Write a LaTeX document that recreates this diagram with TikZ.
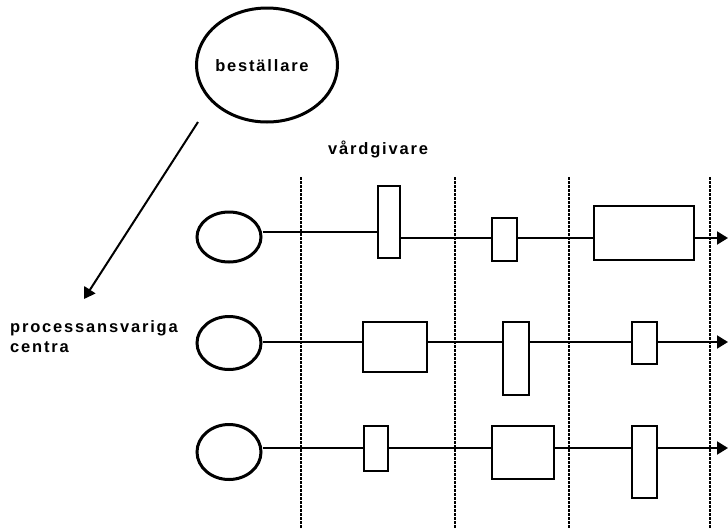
\documentclass[tikz,border=0pt]{standalone}
\usepackage{fontspec}
\newfontfamily\labfont{Liberation Sans Bold}[LetterSpace=11]
\usepackage{tikz}
\usetikzlibrary{shapes.geometric,arrows.meta}

\tikzset{
  lab/.style={font=\labfont\fontsize{16.5}{20}\selectfont, inner sep=0pt},
  actor/.style={draw, ellipse, line width=3pt, inner sep=0pt},
  task/.style={draw, rectangle, line width=2.2pt, inner sep=0pt},
  flow/.style={line width=2pt},
  tip/.style={-{Triangle[length=11pt,width=13pt]}},
  sep/.style={line width=2pt, dash pattern=on 2.5pt off 1.5pt}
}

\begin{document}
\begin{tikzpicture}[x=1pt,y=-1pt]
   \useasboundingbox (0,0) rectangle (728,528);
   % beställare och pilen ner
   \node[actor, minimum width=141pt, minimum height=114pt] (best) at (267,65) {};
   \node[lab] at (262,66) {beställare};
   \coordinate (a0) at (198,122);
   \coordinate (a1) at (84,299);
   \draw[flow,tip] (a0) -- (a1);
   \node[lab, anchor=base west] (vg) at (328,154) {vårdgivare};
   \node[lab, anchor=north west, align=left] (pc) at (10,320) {processansvariga\\centra};
   % skiljelinjer
   \foreach \x in {301,455,569,710}
     \draw[sep] (\x,177) -- (\x,528);
   % rad 1
   \node[actor, minimum width=64pt, minimum height=50pt] (c1) at (229,237) {};
   \node[task, minimum width=22pt, minimum height=72pt] (b11) at (389,222) {};
   \node[task, minimum width=25pt, minimum height=43pt] (b12) at (504.5,239.5) {};
   \node[task, minimum width=100pt, minimum height=54pt] (b13) at (644,233) {};
   \coordinate (e1) at (728,238);
   \draw[flow] ([yshift=5pt]c1.east) -- ([yshift=5pt]c1.east -| b11.west);
   \draw[flow] (b11.east |- e1) -- (b12.west |- e1);
   \draw[flow] (b12.east |- e1) -- (b13.west |- e1);
   \draw[flow,tip] (b13.east |- e1) -- (e1);
   % rad 2
   \node[actor, minimum width=64pt, minimum height=53pt] (c2) at (229,343) {};
   \node[task, minimum width=64pt, minimum height=50pt] (b21) at (395,347) {};
   \node[task, minimum width=26pt, minimum height=73pt] (b22) at (516,358.5) {};
   \node[task, minimum width=25pt, minimum height=42pt] (b23) at (644.5,343) {};
   \coordinate (e2) at (728,342);
   \draw[flow] (c2.east |- e2) -- (b21.west |- e2);
   \draw[flow] (b21.east |- e2) -- (b22.west |- e2);
   \draw[flow] (b22.east |- e2) -- (b23.west |- e2);
   \draw[flow,tip] (b23.east |- e2) -- (e2);
   % rad 3
   \node[actor, minimum width=64pt, minimum height=55pt] (c3) at (229,452) {};
   \node[task, minimum width=24pt, minimum height=45pt] (b31) at (376,448.5) {};
   \node[task, minimum width=62pt, minimum height=53pt] (b32) at (523,452.5) {};
   \node[task, minimum width=25pt, minimum height=72pt] (b33) at (644.5,462) {};
   \coordinate (e3) at (728,448);
   \draw[flow] (c3.east |- e3) -- (b31.west |- e3);
   \draw[flow] (b31.east |- e3) -- (b32.west |- e3);
   \draw[flow] (b32.east |- e3) -- (b33.west |- e3);
   \draw[flow,tip] (b33.east |- e3) -- (e3);
\end{tikzpicture}
\end{document}
